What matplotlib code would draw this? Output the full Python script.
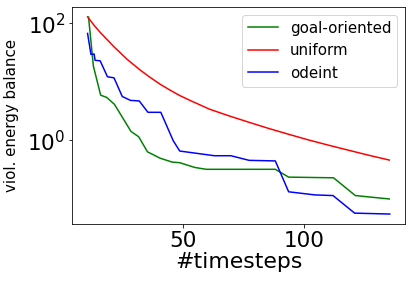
import matplotlib
matplotlib.use("Agg")
import matplotlib.pyplot as plt
from matplotlib.ticker import NullLocator, LogFormatterMathtext

# goal-oriented
goal_x = [11, 13, 16, 18.5, 21.7, 28.5, 31.7, 35.3, 40.5, 45.5, 48.6, 54.8, 59.5, 88, 93.5, 112, 121, 135]
goal_y = [129, 18.6, 5.9, 5.4, 4.1, 1.41, 1.14, 0.63, 0.49, 0.42, 0.41, 0.34, 0.316, 0.316, 0.232, 0.226, 0.112, 0.098]

# uniform
unif_x = [10.6, 13.3, 16.0, 21.5, 26.9, 32.3, 36.4, 40.5, 44.6, 48.6, 52.7, 60.9, 69.0, 77.2, 85.3,
          93.5, 101.6, 109.8, 117.9, 126.1, 135.0]
unif_y = [129.7, 93, 69, 39.8, 24.3, 15.9, 11.9, 9.1, 7.2, 5.82, 4.83, 3.39, 2.60, 2.02, 1.585,
          1.26, 1.01, 0.822, 0.676, 0.556, 0.455]

# odeint
ode_x = [10.6, 12.0, 13.3, 13.7, 15.8, 18.8, 21.5, 24.9, 28.3, 31.9, 35.5, 40.8, 45.9, 48.6,
         62.9, 69.7, 77.2, 88, 93.5, 104.3, 111.8, 120.7, 135.2]
ode_y = [67.6, 29.5, 30.0, 23.4, 22.9, 12.2, 11.7, 5.6, 4.8, 4.7, 3.0, 3.0, 0.98, 0.65,
         0.54, 0.54, 0.45, 0.44, 0.13, 0.115, 0.112, 0.056, 0.054]

DPI = 72
fig = plt.figure(figsize=(414 / DPI, 282 / DPI), dpi=DPI)
ax = fig.add_axes([0.175, 0.206, 0.803, 0.769])

ax.plot(goal_x, goal_y, color="green", lw=1.5, label="goal-oriented")
ax.plot(unif_x, unif_y, color="red", lw=1.5, label="uniform")
ax.plot(ode_x, ode_y, color="blue", lw=1.5, label="odeint")

ax.set_yscale("log")
ax.set_yticks([1, 100])
ax.yaxis.set_major_formatter(LogFormatterMathtext())
ax.yaxis.set_minor_locator(NullLocator())
ax.set_xticks([50, 100])
ax.tick_params(axis="both", labelsize=21.5)

ax.set_xlabel("#timesteps", fontsize=22, labelpad=1)
ax.set_ylabel("viol. energy balance", fontsize=15)
ax.yaxis.set_label_coords(-0.16, 0.5)

ax.legend(loc="upper right", fontsize=15)

fig.savefig("out.png", dpi=DPI)
